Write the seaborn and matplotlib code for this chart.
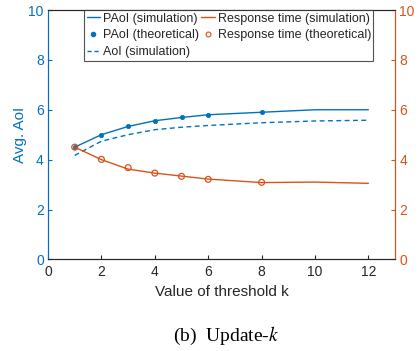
import matplotlib
matplotlib.use("Agg")
import matplotlib.pyplot as plt
import seaborn as sns
import pandas as pd
from matplotlib.lines import Line2D

# data
k_sim = [1, 2, 3, 4, 5, 6, 8, 10, 12]
paoi_sim = [4.5, 5.0, 5.33, 5.56, 5.69, 5.8, 5.9, 6.0, 6.0]
aoi_sim = [4.17, 4.74, 5.0, 5.2, 5.3, 5.37, 5.48, 5.55, 5.58]
resp_sim = [4.5, 4.0, 3.62, 3.46, 3.34, 3.22, 3.08, 3.1, 3.05]
k_theo = [1, 2, 3, 4, 5, 6, 8]
paoi_theo = [4.5, 5.0, 5.33, 5.56, 5.69, 5.8, 5.9]
resp_theo = [4.5, 4.01, 3.68, 3.46, 3.33, 3.21, 3.09]

BLUE = "#0072BD"
ORANGE = "#D95319"

sns.set_style("white")
plt.rcParams["font.family"] = ["Liberation Sans", "DejaVu Sans"]

fig = plt.figure(figsize=(4.19, 3.51), dpi=100)
ax = fig.add_axes([0.1146, 0.261, 0.8284, 0.7105])
ax2 = ax.twinx()

df_sim = pd.DataFrame({"k": k_sim, "paoi": paoi_sim, "aoi": aoi_sim, "resp": resp_sim})
df_theo = pd.DataFrame({"k": k_theo, "paoi": paoi_theo, "resp": resp_theo})

sns.lineplot(data=df_sim, x="k", y="paoi", ax=ax, color=BLUE, lw=1.0)
sns.lineplot(data=df_sim, x="k", y="aoi", ax=ax, color=BLUE, lw=1.0, linestyle=(0, (3.5, 2.5)))
sns.scatterplot(data=df_theo, x="k", y="paoi", ax=ax, color=BLUE, s=10, edgecolor=BLUE, linewidth=0.5, zorder=5)
sns.lineplot(data=df_sim, x="k", y="resp", ax=ax2, color=ORANGE, lw=1.0)
sns.scatterplot(data=df_theo, x="k", y="resp", ax=ax2, s=18, facecolor="none", edgecolor=ORANGE, linewidth=0.9, zorder=5)

for a in (ax, ax2):
    a.set_xlim(0, 13)
    a.set_ylim(0, 10)
ax.set_xticks([0, 2, 4, 6, 8, 10, 12])
ax.set_yticks([0, 2, 4, 6, 8, 10])
ax2.set_yticks([0, 2, 4, 6, 8, 10])

ax.set_xlabel("Value of threshold k", fontsize=11, color="#262626", labelpad=4)
ax.set_ylabel("Avg. AoI", fontsize=11, color=BLUE, labelpad=1)
ax2.set_ylabel("Avg. Response Time", fontsize=11, color=ORANGE, labelpad=4)

ax.tick_params(axis="x", direction="in", length=3, labelsize=10, colors="#262626", bottom=True, top=False, pad=4)
ax.tick_params(axis="y", direction="in", length=3, labelsize=10, colors=BLUE, left=True, pad=3)
ax2.tick_params(axis="y", direction="in", length=3, labelsize=10, colors=ORANGE, right=True, pad=3)

for a in (ax, ax2):
    for s in a.spines.values():
        s.set_visible(True)
        s.set_linewidth(0.8)
    a.spines["top"].set_color("#262626")
    a.spines["bottom"].set_color("#262626")
    a.spines["left"].set_color(BLUE)
    a.spines["right"].set_color(ORANGE)

handles = [
    Line2D([], [], color=BLUE, lw=1.0),
    Line2D([], [], color=BLUE, marker="o", markersize=3, lw=0),
    Line2D([], [], color=BLUE, lw=1.0, linestyle=(0, (3, 2))),
    Line2D([], [], color=ORANGE, lw=1.0),
    Line2D([], [], color=ORANGE, marker="o", markersize=3.5, lw=0, markerfacecolor="none", markeredgewidth=0.8),
]
labels = ["PAoI (simulation)", "PAoI (theoretical)", "AoI (simulation)",
          "Response time (simulation)", "Response time (theoretical)"]
leg = ax2.legend(handles, labels, loc="upper left", bbox_to_anchor=(0.104, 1.0), ncol=2,
                 fontsize=9, frameon=True, fancybox=False, borderaxespad=0,
                 handlelength=1.1, handletextpad=0.2, columnspacing=0.2,
                 labelspacing=0.38, borderpad=0.2)
leg.get_frame().set_edgecolor("#262626")
leg.get_frame().set_linewidth(0.8)
for t in leg.get_texts():
    t.set_color("#262626")

plt.rcParams["mathtext.fontset"] = "stix"
fig.text(0.54, 0.043, "(b)  Update-$k$", ha="center", va="center", fontsize=14,
         family=["Liberation Serif", "DejaVu Serif"], color="black")

fig.savefig("out.png", dpi=100)
